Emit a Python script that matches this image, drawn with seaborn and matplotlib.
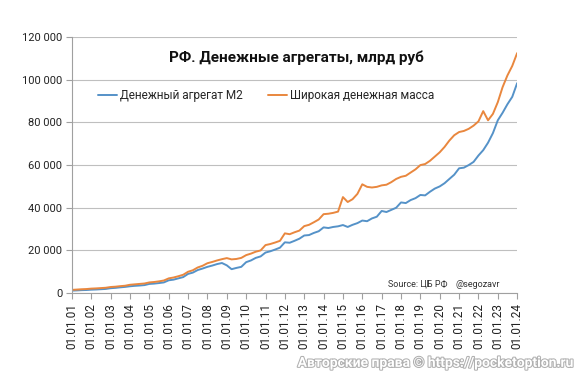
import pandas as pd
import seaborn as sns
import matplotlib.pyplot as plt
import matplotlib.dates as mdates
import matplotlib.patheffects as pe
from matplotlib.ticker import FuncFormatter, MultipleLocator

# quarterly values, bn rub (01.01.2001 .. 01.01.2024)
m2 = [1150, 1250, 1380, 1450,
      1600, 1680, 1820, 1950,
      2300, 2450, 2700, 2900,
      3200, 3400, 3550, 3750,
      4300, 4450, 4700, 5000,
      6000, 6300, 6900, 7500,
      9000, 9600, 10800, 11500,
      12300, 12900, 13600, 14100,
      13000, 11200, 11800, 12300,
      14500, 15300, 16500, 17200,
      19000, 19600, 20400, 21300,
      23800, 23600, 24500, 25500,
      27000, 27200, 28200, 29000,
      30800, 30500, 31000, 31300,
      31900, 31000, 32000, 32800,
      34000, 33700, 35000, 35800,
      38500, 38000, 39000, 40000,
      42500, 42200, 43600, 44500,
      46000, 45800, 47500, 49000,
      50000, 51500, 53500, 55500,
      58500, 58800, 60000, 61500,
      64500, 67000, 70500, 75000,
      81000, 84500, 88500, 92000,
      98400]

broad = [1500, 1650, 1800, 1900,
         2100, 2200, 2350, 2500,
         2850, 3000, 3250, 3450,
         3900, 4100, 4300, 4500,
         5000, 5200, 5500, 5900,
         6900, 7300, 7900, 8600,
         10000, 10700, 12000, 12800,
         14000, 14600, 15300, 15900,
         16400, 15800, 16000, 16500,
         17800, 18500, 19400, 20000,
         22500, 23000, 23700, 24500,
         28000, 27600, 28500, 29300,
         31400, 32000, 33200, 34500,
         37000, 37200, 37600, 38200,
         45000, 42700, 44000, 46500,
         51000, 49800, 49500, 49800,
         50500, 50800, 52000, 53500,
         54500, 55000, 56500, 58000,
         60000, 60500, 62000, 64000,
         66000, 68500, 71500, 74000,
         75500, 76000, 77000, 78500,
         80500, 85300, 81000, 84000,
         89500, 96500, 102000, 106500,
         112500]

series_names = ["Денежный агрегат М2", "Широкая денежная масса"]
colors = ["#5592c8", "#e9873e"]
dates = pd.date_range("2001-01-01", "2024-01-01", freq="QS")

df = pd.concat([
    pd.DataFrame({"date": dates, "value": m2, "series": series_names[0]}),
    pd.DataFrame({"date": dates, "value": broad, "series": series_names[1]}),
])

sns.set_style("white")
plt.rcParams["font.family"] = ["Roboto", "DejaVu Sans"]

fig = plt.figure(figsize=(5.85, 3.71), dpi=100)
ax = fig.add_axes([0.123, 0.21, 0.761, 0.69])

sns.lineplot(data=df, x="date", y="value", hue="series", ax=ax,
             palette=colors, linewidth=1.4, legend=False)

ax.set_xlim(pd.Timestamp("2001-01-01"), pd.Timestamp("2024-01-01"))
ax.set_ylim(0, 120000)
ax.yaxis.set_major_locator(MultipleLocator(20000))
ax.yaxis.set_major_formatter(FuncFormatter(lambda v, p: f"{int(v):,}".replace(",", " ")))
ax.xaxis.set_major_locator(mdates.YearLocator())
ax.xaxis.set_major_formatter(mdates.DateFormatter("%d.%m.%y"))
plt.setp(ax.get_xticklabels(), rotation=90)

ax.grid(axis="y", color="#bfbfbf", linewidth=0.8)
for s in ["top", "right"]:
    ax.spines[s].set_visible(False)
for s in ["left", "bottom"]:
    ax.spines[s].set_color("#a0a0a0")
    ax.spines[s].set_linewidth(0.8)
ax.tick_params(axis="both", labelsize=8, colors="#a0a0a0", labelcolor="#222222",
               length=4, width=0.8, pad=3)
ax.tick_params(axis="x", bottom=True, labelsize=8.5)
ax.tick_params(axis="y", left=True)
ax.set_xlabel("")
ax.set_ylabel("")

fig.text(0.506, 0.845, "РФ. Денежные агрегаты, млрд руб", ha="center", va="center",
         fontsize=11, fontweight="bold", color="#111111")

handles = [plt.Line2D([], [], color=c, linewidth=1.4) for c in colors]
fig.legend(handles, series_names, loc="center", bbox_to_anchor=(0.455, 0.742), ncol=2,
           frameon=False, fontsize=8.5, handlelength=1.6, handletextpad=0.2,
           columnspacing=2.2)

fig.text(0.663, 0.234, "Source: ЦБ РФ", fontsize=6.5, color="#333333", va="center")
fig.text(0.778, 0.234, "@segozavr", fontsize=6.5, color="#333333", va="center")

fig.text(0.745, 0.022, "Авторские права © https://pocketoption.ru", ha="center", va="center",
         fontsize=10, fontweight="bold", color="white",
         path_effects=[pe.withStroke(linewidth=1.5, foreground="#b0b0b0")])

fig.savefig("out.png", dpi=100)
